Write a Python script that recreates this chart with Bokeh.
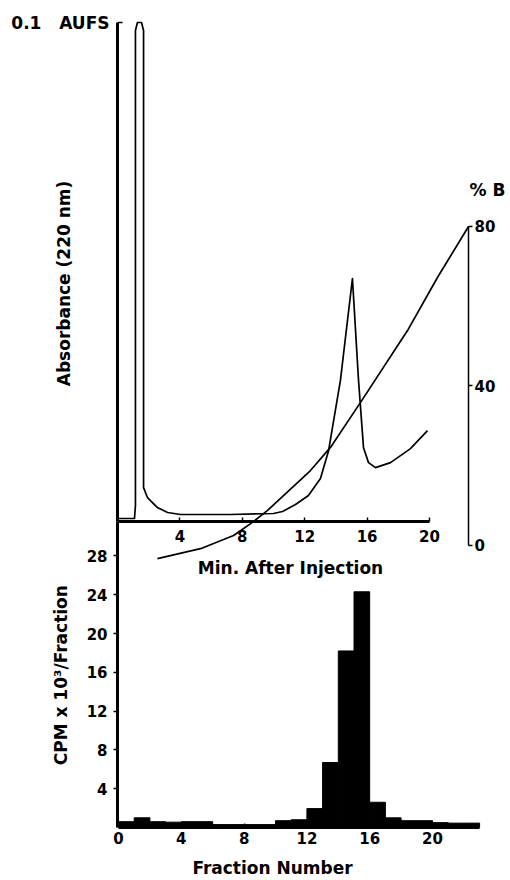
import math
from bokeh.plotting import figure
from bokeh.models import Range1d, LinearAxis, FixedTicker, Label
from bokeh.embed import file_html
from bokeh.resources import INLINE

# ---------------- data ----------------
# absorbance trace (220 nm), minutes after injection vs AU (0.1 AUFS full scale)
abs_min = [0.0, 1.09, 1.15, 1.15, 1.28, 1.54, 1.67, 1.67, 1.92, 2.56, 3.21, 4.04,
           7.24, 10.0, 10.58, 11.41, 12.24, 13.01, 13.53, 14.29, 15.06, 15.45,
           15.77, 16.09, 16.54, 17.5, 18.78, 19.87]
abs_au = [0.0006, 0.0006, 0.0032, 0.0984, 0.1, 0.1, 0.0984, 0.0068, 0.0048, 0.0028,
          0.0018, 0.0014, 0.0014, 0.0016, 0.002, 0.0034, 0.0052, 0.0086, 0.0142,
          0.0283, 0.0487, 0.0283, 0.0148, 0.0118, 0.0108, 0.0118, 0.0146, 0.0182]

# gradient (% B) vs minutes
grad_min = [2.56, 5.32, 7.44, 8.72, 9.62, 12.37, 13.65, 15.58, 18.59, 20.51, 22.5]
grad_pctB = [-3.3, -0.8, 2.5, 6.0, 8.8, 18.8, 24.6, 35.9, 53.9, 67.2, 80.0]

# radioactivity per fraction (CPM x 10^3)
fractions = list(range(23))
cpm = [0.6, 1.0, 0.6, 0.55, 0.6, 0.6, 0.3, 0.3, 0.3, 0.3, 0.7, 0.8, 1.95, 6.7,
       18.2, 24.3, 2.6, 1.0, 0.7, 0.7, 0.5, 0.45, 0.45]

time_ticks = [4, 8, 12, 16, 20]
frac_ticks = [0, 4, 8, 12, 16, 20]
cpm_ticks = [4, 8, 12, 16, 20, 24, 28]
pb_ticks = [0, 40, 80]
aufs_ticks = [0.1]

# ---------------- figure ----------------
# The plotting frame fills the whole canvas; all axes sit at fixed data locations.
FONT = "DejaVu Sans"
p = figure(width=510, height=880, output_backend="svg", toolbar_location=None,
           x_range=Range1d(-7.5, 25.192), y_range=Range1d(-5.464, 85.258),
           x_axis_type=None, y_axis_type=None, min_border=0)
p.extra_x_ranges = {"frac": Range1d(-7.516, 24.968)}
p.extra_y_ranges = {"abs": Range1d(-0.071944, 0.104409),
                    "pb": Range1d(-84.013, 136.677)}
p.outline_line_color = None
p.background_fill_color = "white"
p.border_fill_color = "white"


def style(ax, lw, tin, tout, standoff, fs="15px"):
    ax.axis_line_width = lw
    ax.axis_line_color = "black"
    ax.major_tick_in = tin
    ax.major_tick_out = tout
    ax.major_tick_line_width = 1.5
    ax.major_tick_line_color = "black"
    ax.minor_tick_line_color = None
    ax.major_label_text_font = FONT
    ax.major_label_text_font_style = "bold"
    ax.major_label_text_font_size = fs
    ax.major_label_text_color = "black"
    ax.major_label_standoff = standoff


ax_time = LinearAxis(y_range_name="abs", fixed_location=0, bounds=(0, 20),
                     ticker=FixedTicker(ticks=time_ticks))
style(ax_time, 3, 4, 0, 8)
p.add_layout(ax_time, "below")

ax_frac = LinearAxis(x_range_name="frac", fixed_location=0, bounds=(0, 23),
                     ticker=FixedTicker(ticks=frac_ticks))
style(ax_frac, 3, 4, 0, 5)
p.add_layout(ax_frac, "below")

ax_cpm = LinearAxis(fixed_location=0, bounds=(0, 31.55),
                    ticker=FixedTicker(ticks=cpm_ticks))
style(ax_cpm, 3, 0, 4, 6)
p.add_layout(ax_cpm, "left")

ax_abs = LinearAxis(y_range_name="abs", fixed_location=0, bounds=(0, 0.1),
                    ticker=FixedTicker(ticks=aufs_ticks),
                    major_label_overrides={0.1: "0.1\u00a0\u00a0\u00a0AUFS"})
style(ax_abs, 3, 5, 0, 8, fs="17px")
p.add_layout(ax_abs, "left")

ax_pb = LinearAxis(y_range_name="pb", fixed_location=22.5, bounds=(0, 80),
                   ticker=FixedTicker(ticks=pb_ticks))
style(ax_pb, 1.5, 0, 4, 2)
p.add_layout(ax_pb, "right")

# ---------------- marks ----------------
p.vbar(x=[f + 0.5 for f in fractions], top=cpm, bottom=0, width=1,
       x_range_name="frac", fill_color="black", line_color="black", line_width=1)
p.line(abs_min, abs_au, y_range_name="abs", line_width=1.7, color="black",
       line_join="round")
p.line(grad_min, grad_pctB, y_range_name="pb", line_width=1.7, color="black",
       line_join="round")

# ---------------- titles ----------------
def lab(text, **kw):
    l = Label(text=text, text_font=FONT, text_font_style="bold",
              text_font_size="17px", text_color="black",
              text_align="center", text_baseline="middle", **kw)
    p.add_layout(l)

lab("Min. After Injection", x=11.09, y=0, y_range_name="abs", y_offset=-46)
lab("Fraction Number", x=9.81, y=0, x_range_name="frac", y_offset=-41)
lab("Absorbance (220 nm)", x=0, y=0.0477, y_range_name="abs", x_offset=-54,
    angle=math.pi / 2)
lab("CPM x 10\u00b3/Fraction", x=0, y=15.7, x_offset=-57, angle=math.pi / 2)
lab("% B", x=22.5, y=80, y_range_name="pb", x_offset=19, y_offset=36)

open("out.html", "w").write(file_html(p, INLINE))
